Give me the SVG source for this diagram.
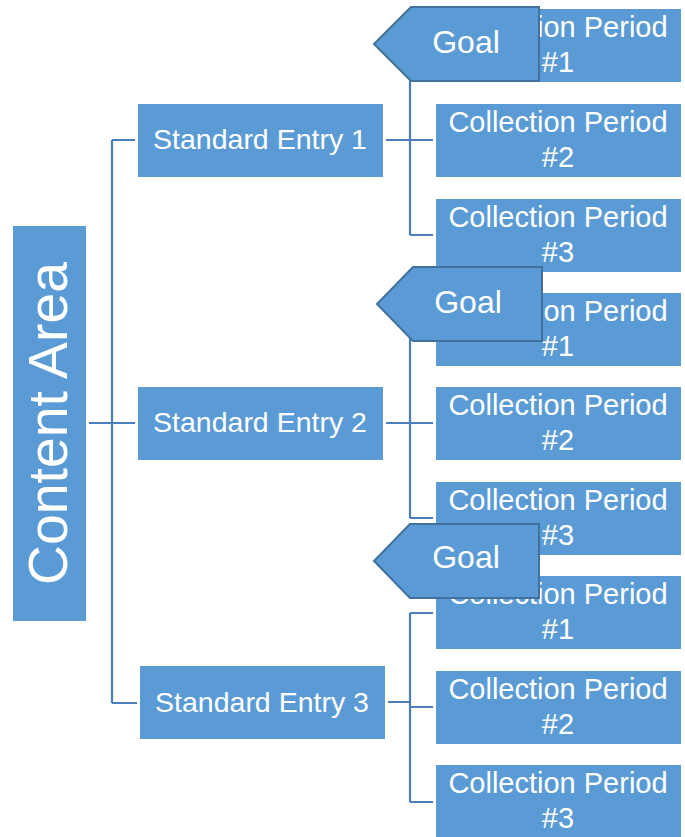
<svg xmlns="http://www.w3.org/2000/svg" width="685" height="837" viewBox="0 0 685 837">
<style>
.box{fill:#5b9bd5;}
.goal{fill:#5b9bd5;stroke:#41719c;stroke-width:2;stroke-linejoin:miter;}
.cp{font-family:"Liberation Sans",Arial,sans-serif;font-size:29px;fill:#ffffff;text-anchor:middle;}
.se{font-family:"Liberation Sans",Arial,sans-serif;font-size:28.5px;fill:#ffffff;text-anchor:middle;}
.gl{font-family:"Liberation Sans",Arial,sans-serif;font-size:32px;fill:#ffffff;text-anchor:middle;}
.ca{font-family:"Liberation Sans",Arial,sans-serif;font-size:56px;fill:#ffffff;text-anchor:middle;}
.conn{fill:none;stroke:#4a7ebb;stroke-width:2.2;}
</style>
<rect width="685" height="837" fill="#ffffff"/>
<g id="connectors" class="conn">
<path d="M89,423 H135 M112,140 V703 M112,140 H135 M112,703 H137"/>
<path d="M386,140 H433 M410,44 V235 M410,46 H433 M410,235 H433"/>
<path d="M386,423 H433 M410,304 V518 M410,329 H433 M410,518 H433"/>
<path d="M388,702 H410 M410,613 V802 M410,613 H433 M410,707 H433 M410,802 H433"/>
</g>
<g id="content-area">
<rect class="box" x="13" y="226" width="73" height="395"/>
<text class="ca" transform="translate(67,423.5) rotate(-90)" textLength="323" lengthAdjust="spacingAndGlyphs">Content Area</text>
</g>
<g id="standard-entry-1">
<rect class="box" x="138" y="104" width="245" height="73"/>
<text class="se" x="260" y="149">Standard Entry 1</text>
</g>
<g id="standard-entry-2">
<rect class="box" x="138" y="387" width="245" height="73"/>
<text class="se" x="260" y="432">Standard Entry 2</text>
</g>
<g id="standard-entry-3">
<rect class="box" x="140" y="666" width="245" height="73"/>
<text class="se" x="262" y="712">Standard Entry 3</text>
</g>
<g id="cp-1-1">
<rect class="box" x="436" y="9" width="245" height="73"/>
<text class="cp" x="558" y="37">Collection Period</text>
<text class="cp" x="558" y="72">#1</text>
</g>
<g id="cp-1-2">
<rect class="box" x="436" y="104" width="245" height="73"/>
<text class="cp" x="558" y="132">Collection Period</text>
<text class="cp" x="558" y="167">#2</text>
</g>
<g id="cp-1-3">
<rect class="box" x="436" y="199" width="245" height="73"/>
<text class="cp" x="558" y="227">Collection Period</text>
<text class="cp" x="558" y="262">#3</text>
</g>
<g id="cp-2-1">
<rect class="box" x="436" y="293" width="245" height="73"/>
<text class="cp" x="558" y="321">Collection Period</text>
<text class="cp" x="558" y="356">#1</text>
</g>
<g id="cp-2-2">
<rect class="box" x="436" y="387" width="245" height="73"/>
<text class="cp" x="558" y="415">Collection Period</text>
<text class="cp" x="558" y="450">#2</text>
</g>
<g id="cp-2-3">
<rect class="box" x="436" y="482" width="245" height="73"/>
<text class="cp" x="558" y="510">Collection Period</text>
<text class="cp" x="558" y="545">#3</text>
</g>
<g id="cp-3-1">
<rect class="box" x="436" y="576" width="245" height="73"/>
<text class="cp" x="558" y="604">Collection Period</text>
<text class="cp" x="558" y="639">#1</text>
</g>
<g id="cp-3-2">
<rect class="box" x="436" y="671" width="245" height="73"/>
<text class="cp" x="558" y="699">Collection Period</text>
<text class="cp" x="558" y="734">#2</text>
</g>
<g id="cp-3-3">
<rect class="box" x="436" y="765" width="245" height="73"/>
<text class="cp" x="558" y="793">Collection Period</text>
<text class="cp" x="558" y="828">#3</text>
</g>
<g id="goal-1">
<polygon class="goal" points="411,7 539,7 539,81 411,81 374,44"/>
<text class="gl" x="466" y="53">Goal</text>
</g>
<g id="goal-2">
<polygon class="goal" points="413,267 542,267 542,341 413,341 377,304"/>
<text class="gl" x="468" y="313">Goal</text>
</g>
<g id="goal-3">
<polygon class="goal" points="410,524 539,524 539,598 410,598 374,561"/>
<text class="gl" x="466" y="568">Goal</text>
</g>
</svg>
